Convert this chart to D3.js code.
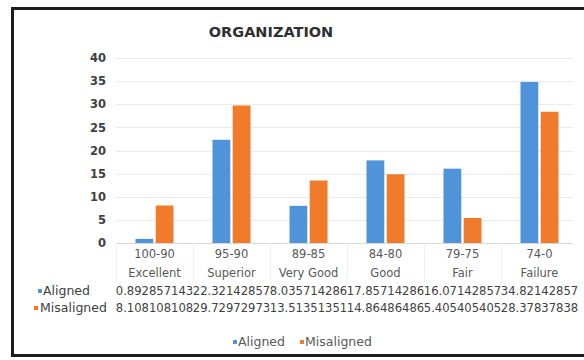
<!DOCTYPE html>
<html>
<head>
<meta charset="utf-8">
<script src="https://cdn.jsdelivr.net/npm/d3@7"></script>
<style>
  html, body { margin: 0; padding: 0; background: #fff; overflow: hidden; }
  svg { display: block; overflow: hidden; }
  text { font-family: "DejaVu Sans", sans-serif; }
</style>
</head>
<body>
<svg id="chart" width="584" height="360"></svg>
<script>
// Score bands and their grade names
const categories = ["100-90", "95-90", "89-85", "84-80", "79-75", "74-0"];
const grades = ["Excellent", "Superior", "Very Good", "Good", "Fair", "Failure"];

// Percent of respondents per band
const aligned = [0.892857143, 22.32142857, 8.035714286, 17.85714286, 16.07142857, 34.82142857];
const misaligned = [8.108108108, 29.72972973, 13.51351351, 14.86486486, 5.405405405, 28.37837838];

const seriesNames = ["Aligned", "Misaligned"];
const seriesColors = ["#4f93d8", "#ef7b2b"];
const yTicks = [0, 5, 10, 15, 20, 25, 30, 35, 40];

const svg = d3.select("#chart");

// Chart frame: left, top and bottom edges (it runs on past the right edge)
svg.append("path")
  .attr("d", "M620,8.5 H12.5 V355.5 H620")
  .attr("fill", "none")
  .attr("stroke", "#1c1c1c")
  .attr("stroke-width", 3);

// Title
svg.append("text")
  .attr("x", 271).attr("y", 37)
  .attr("text-anchor", "middle")
  .attr("font-size", 14.5)
  .attr("font-weight", "bold")
  .attr("fill", "#303030")
  .text("ORGANIZATION");

const plotLeft = 116, plotRight = 578, plotTop = 58, plotBottom = 243;

const x0 = d3.scaleBand().domain(categories).range([plotLeft, plotRight]).padding(0);
const clusterW = 38;
const x1 = d3.scaleBand().domain(seriesNames)
  .range([(x0.bandwidth() - clusterW) / 2, (x0.bandwidth() + clusterW) / 2])
  .paddingInner(0.12);
const y = d3.scaleLinear().domain([0, 40]).range([plotBottom, plotTop]);

// Horizontal gridlines
svg.append("g")
  .selectAll("line")
  .data(yTicks)
  .join("line")
  .attr("x1", plotLeft).attr("x2", plotRight - 5)
  .attr("y1", d => Math.round(y(d)) + 0.5)
  .attr("y2", d => Math.round(y(d)) + 0.5)
  .attr("stroke", d => d === 0 ? "#d9d9d9" : "#ebebeb")
  .attr("stroke-width", 1);

// Y axis labels
const yAxis = d3.axisLeft(y).tickValues(yTicks).tickSize(0).tickPadding(0);
const gy = svg.append("g")
  .attr("transform", `translate(106,0)`)
  .call(yAxis);
gy.select(".domain").remove();
gy.selectAll("text")
  .attr("font-family", "DejaVu Sans, sans-serif")
  .attr("font-size", 11.5)
  .attr("font-weight", "bold")
  .attr("fill", "#404040");

// Bars
const rows = categories.map((c, i) => ({ cat: c, values: [aligned[i], misaligned[i]] }));
const groups = svg.append("g")
  .selectAll("g")
  .data(rows)
  .join("g")
  .attr("transform", d => `translate(${x0(d.cat)},0)`);

groups.selectAll("rect")
  .data(d => d.values.map((v, k) => ({ name: seriesNames[k], v, k })))
  .join("rect")
  .attr("x", d => x1(d.name))
  .attr("width", x1.bandwidth())
  .attr("y", d => y(d.v))
  .attr("height", d => y(0) - y(d.v))
  .attr("fill", d => seriesColors[d.k]);

// Category separators in the label area
svg.append("g")
  .selectAll("line")
  .data(categories.map(c => x0(c)))
  .join("line")
  .attr("x1", d => d + 0.5).attr("x2", d => d + 0.5)
  .attr("y1", plotBottom).attr("y2", 283)
  .attr("stroke", "#f0f0f0");

// Category labels: score band and grade
const cx = c => x0(c) + x0.bandwidth() / 2;
svg.append("g")
  .selectAll("text")
  .data(categories)
  .join("text")
  .attr("x", cx).attr("y", 258)
  .attr("text-anchor", "middle")
  .attr("font-size", 11.5)
  .attr("fill", "#595959")
  .text(d => d);

svg.append("g")
  .selectAll("text")
  .data(categories.map((c, i) => ({ c, g: grades[i] })))
  .join("text")
  .attr("x", d => cx(d.c)).attr("y", 277)
  .attr("text-anchor", "middle")
  .attr("font-size", 11.5)
  .attr("fill", "#595959")
  .text(d => d.g);

// Data table values, Excel "General" style (11 characters)
const general = v => {
  const intDigits = String(Math.floor(Math.abs(v))).length;
  return v.toFixed(Math.max(0, 11 - intDigits - 1));
};
const tableRows = [
  { name: "Aligned", vals: aligned, y: 295, keyX: 38, textX: 43 },
  { name: "Misaligned", vals: misaligned, y: 312, keyX: 34, textX: 40 }
];
tableRows.forEach((r, k) => {
  svg.append("rect")
    .attr("x", r.keyX).attr("y", r.y - 6)
    .attr("width", 4).attr("height", 4)
    .attr("fill", seriesColors[k]);
  svg.append("text")
    .attr("x", r.textX).attr("y", r.y)
    .attr("font-size", 12.5)
    .attr("fill", "#404040")
    .text(r.name);
  svg.append("g")
    .selectAll("text")
    .data(categories.map((c, i) => ({ c, v: r.vals[i] })))
    .join("text")
    .attr("x", d => cx(d.c)).attr("y", r.y)
    .attr("text-anchor", "middle")
    .attr("font-size", 11.6)
    .attr("fill", "#404040")
    .text(d => general(d.v));
});

// Legend
const legend = [
  { name: "Aligned", keyX: 233, textX: 238 },
  { name: "Misaligned", keyX: 300, textX: 305 }
];
legend.forEach((l, k) => {
  svg.append("rect")
    .attr("x", l.keyX).attr("y", 340)
    .attr("width", 4).attr("height", 4)
    .attr("fill", seriesColors[k]);
  svg.append("text")
    .attr("x", l.textX).attr("y", 346)
    .attr("font-size", 12.5)
    .attr("fill", "#595959")
    .text(l.name);
});
</script>
</body>
</html>
